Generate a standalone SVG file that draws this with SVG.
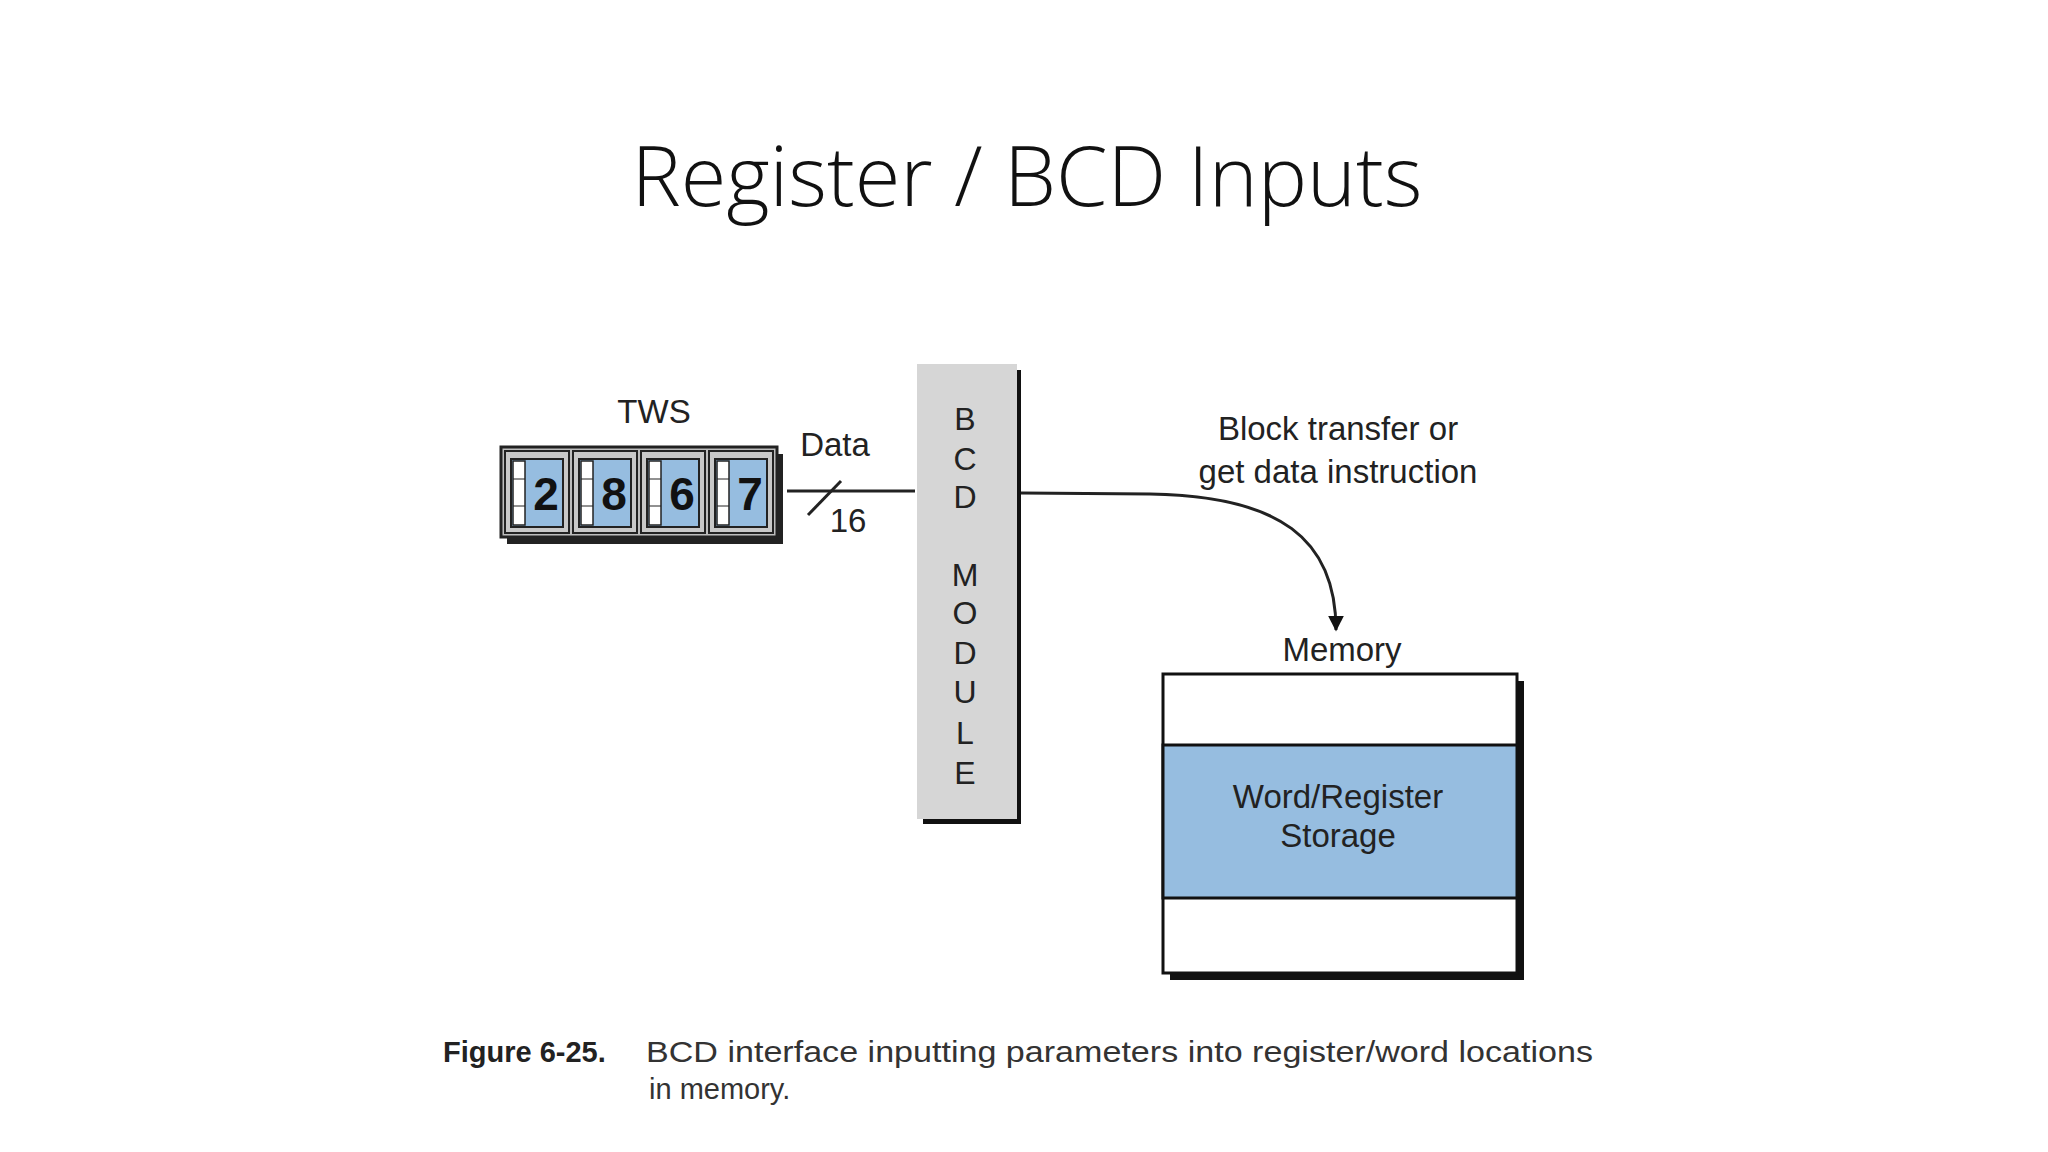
<svg xmlns="http://www.w3.org/2000/svg" width="2048" height="1152" viewBox="0 0 2048 1152">
<defs>
<style>
.t{font-family:"Liberation Sans",Arial,sans-serif;fill:#222}
.cell{fill:#c8c8c8;stroke:#222;stroke-width:2}
.in{fill:#96bde0;stroke:#222;stroke-width:2}
.strip{fill:#fff;stroke:#222;stroke-width:1.5}
.dg{font-family:"Liberation Sans",Arial,sans-serif;font-weight:bold;font-size:46px;fill:#111;text-anchor:middle}
</style>
<marker id="ah" viewBox="0 0 10 10" refX="9" refY="5" markerWidth="16" markerHeight="16" orient="auto" markerUnits="userSpaceOnUse"><path d="M0,0 L10,5 L0,10 z" fill="#111"/></marker>
</defs>
<rect width="2048" height="1152" fill="#fff"/>
<text x="1027" y="206" text-anchor="middle" style="font-family:'Open Sans',sans-serif;font-size:83px;fill:#111;font-weight:300">Register / BCD Inputs</text>
<g transform="translate(-10,-6)">
<g id="tws">
<text class="t" x="664" y="429" text-anchor="middle" font-size="33">TWS</text>
<rect x="517" y="460" width="276" height="90" fill="#222"/>
<rect x="511" y="453" width="276" height="90" fill="#bdbdbd" stroke="#222" stroke-width="3"/>
<g>
<rect class="cell" x="515" y="457" width="64" height="82"/><rect class="in" x="521" y="465" width="52" height="68"/><rect class="strip" x="523" y="467" width="12" height="64"/><line x1="523" y1="485" x2="535" y2="485" stroke="#222"/><line x1="523" y1="512" x2="535" y2="512" stroke="#222"/><text class="dg" x="556" y="516">2</text>
<rect class="cell" x="583" y="457" width="64" height="82"/><rect class="in" x="589" y="465" width="52" height="68"/><rect class="strip" x="591" y="467" width="12" height="64"/><line x1="591" y1="485" x2="603" y2="485" stroke="#222"/><line x1="591" y1="512" x2="603" y2="512" stroke="#222"/><text class="dg" x="624" y="516">8</text>
<rect class="cell" x="651" y="457" width="64" height="82"/><rect class="in" x="657" y="465" width="52" height="68"/><rect class="strip" x="659" y="467" width="12" height="64"/><line x1="659" y1="485" x2="671" y2="485" stroke="#222"/><line x1="659" y1="512" x2="671" y2="512" stroke="#222"/><text class="dg" x="692" y="516">6</text>
<rect class="cell" x="719" y="457" width="64" height="82"/><rect class="in" x="725" y="465" width="52" height="68"/><rect class="strip" x="727" y="467" width="12" height="64"/><line x1="727" y1="485" x2="739" y2="485" stroke="#222"/><line x1="727" y1="512" x2="739" y2="512" stroke="#222"/><text class="dg" x="760" y="516">7</text>
</g>
</g>
<g id="bcd">
<rect x="933" y="376" width="98" height="454" fill="#111"/>
<rect x="927" y="370" width="100" height="455" fill="#d6d6d6"/>
<g class="t" font-size="32" text-anchor="middle">
<text x="975" y="436">B</text><text x="975" y="476">C</text><text x="975" y="514">D</text>
<text x="975" y="592">M</text><text x="975" y="630">O</text><text x="975" y="670">D</text><text x="975" y="709">U</text><text x="975" y="750">L</text><text x="975" y="790">E</text>
</g>
</g>
<g id="memory">
<text class="t" x="1352" y="667" text-anchor="middle" font-size="33">Memory</text>
<rect x="1180" y="687" width="354" height="299" fill="#111"/>
<rect x="1173" y="680" width="354" height="299" fill="#fff" stroke="#111" stroke-width="3"/>
<rect x="1173" y="751" width="354" height="153" fill="#96bde0" stroke="#111" stroke-width="3"/>
<text class="t" x="1348" y="814" text-anchor="middle" font-size="33">Word/Register</text>
<text class="t" x="1348" y="853" text-anchor="middle" font-size="33">Storage</text>
</g>
<g id="connectors" fill="none" stroke="#222" stroke-width="3">
<line x1="797" y1="497" x2="925" y2="497"/>
<line x1="818" y1="521" x2="851" y2="487"/>
<path d="M1031,499 L1160,500 C1290,502 1346,545 1346,636" marker-end="url(#ah)"/>
</g>
<g id="labels" class="t" font-size="33">
<text x="845" y="462" text-anchor="middle">Data</text>
<text x="858" y="538" text-anchor="middle">16</text>
<text x="1348" y="446" text-anchor="middle">Block transfer or</text>
<text x="1348" y="489" text-anchor="middle">get data instruction</text>
</g>
<g id="caption" style="font-family:'Liberation Sans',Arial,sans-serif;font-size:29px;fill:#333">
<text x="453" y="1068"><tspan font-weight="bold" fill="#222">Figure 6-25.</tspan></text>
<text x="656" y="1068" textLength="947" lengthAdjust="spacingAndGlyphs">BCD interface inputting parameters into register/word locations</text>
<text x="659" y="1105">in memory.</text>
</g>
</g>
</svg>
